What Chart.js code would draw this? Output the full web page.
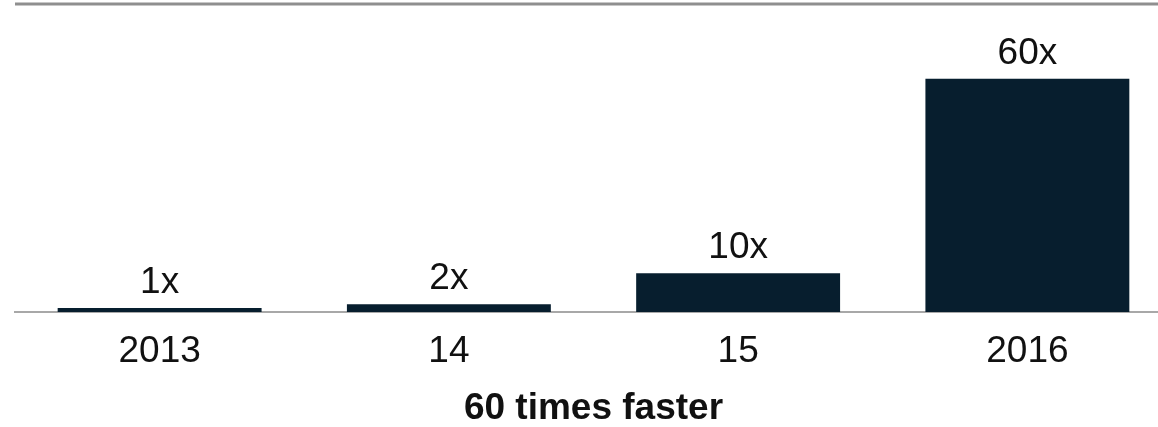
<!DOCTYPE html>
<html>
<head>
<meta charset="utf-8">
<script src="https://cdn.jsdelivr.net/npm/chart.js@4"></script>
<style>
  html, body { margin: 0; padding: 0; background: #fff; overflow: hidden; }
  #wrap { width: 1158px; height: 427px; overflow: hidden; }
  canvas { display: block; }
</style>
</head>
<body>
<div id="wrap"><canvas id="c" width="1172" height="427"></canvas></div>
<script>
// Speed-up per year, relative to 2013
const categories = ['2013', '14', '15', '2016'];
const speedup = [1, 2, 10, 60];
const valueLabels = ['1x', '2x', '10x', '60x'];
const axisTitle = '60 times faster';

const BAR_COLOR = '#071e2e';
const TEXT_COLOR = '#111111';
const FONT = '"Liberation Sans", Arial, sans-serif';

// Thin rule across the top of the figure
const topRule = {
  id: 'topRule',
  beforeDraw(chart) {
    const ctx = chart.ctx;
    ctx.save();
    ctx.strokeStyle = '#8f8f8f';
    ctx.lineWidth = 3;
    ctx.beginPath();
    ctx.moveTo(chart.chartArea.left, 4);
    ctx.lineTo(chart.width, 4);
    ctx.stroke();
    ctx.restore();
  }
};

// Multiplier text above each bar
const barValues = {
  id: 'barValues',
  afterDatasetsDraw(chart) {
    const ctx = chart.ctx;
    const meta = chart.getDatasetMeta(0);
    ctx.save();
    ctx.fillStyle = TEXT_COLOR;
    ctx.font = '37px ' + FONT;
    ctx.textAlign = 'center';
    ctx.textBaseline = 'alphabetic';
    meta.data.forEach((bar, i) => {
      ctx.fillText(valueLabels[i], bar.x, bar.y - 15);
    });
    ctx.restore();
  }
};

new Chart(document.getElementById('c'), {
  type: 'bar',
  data: {
    labels: categories,
    datasets: [{
      data: speedup,
      backgroundColor: BAR_COLOR,
      borderWidth: 0,
      categoryPercentage: 1,
      barPercentage: 0.705
    }]
  },
  options: {
    responsive: false,
    animation: false,
    layout: { padding: { left: 15, right: 0, top: 40, bottom: 0 } },
    plugins: { legend: { display: false }, tooltip: { enabled: false } },
    scales: {
      y: {
        display: false,
        min: 0,
        max: 70
      },
      x: {
        offset: true,
        grid: { display: false, drawTicks: false },
        border: { display: true, color: '#a8a8a8', width: 2 },
        ticks: {
          color: TEXT_COLOR,
          font: { family: FONT, size: 37 },
          padding: 18,
          maxRotation: 0
        },
        title: {
          display: true,
          text: axisTitle,
          color: TEXT_COLOR,
          font: { family: FONT, size: 37, weight: 'bold', lineHeight: 1.0 },
          padding: { top: 0, bottom: 0 }
        },
        afterFit(scale) { scale.height = 115; }
      }
    }
  },
  plugins: [topRule, barValues]
});
</script>
</body>
</html>
